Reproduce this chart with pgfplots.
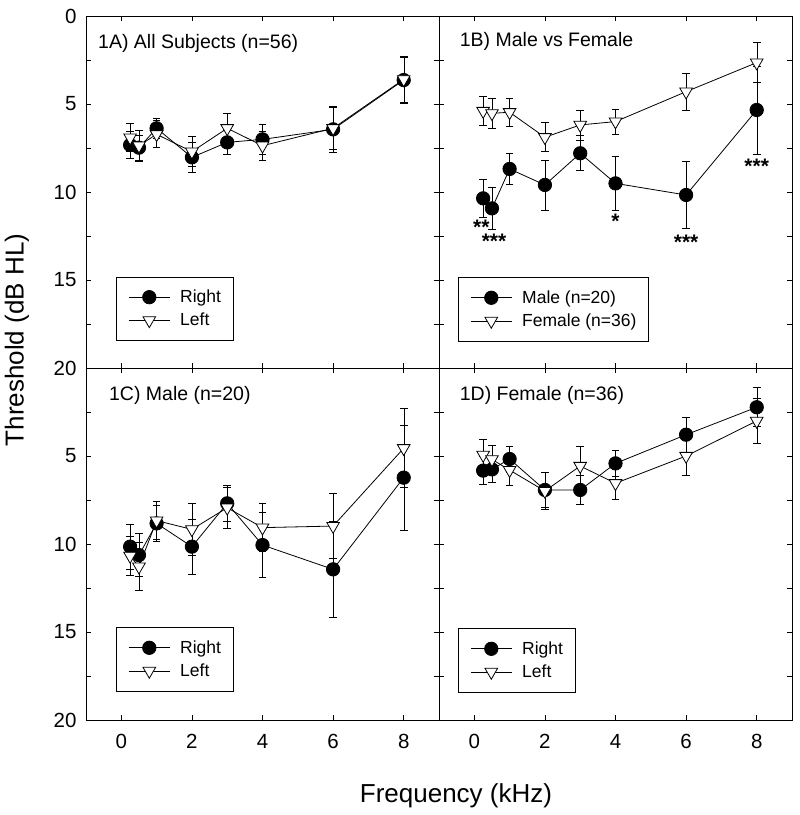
\documentclass[border=0pt]{standalone}
\usepackage{fontspec}
\setmainfont{Liberation Sans}
\usepackage{pgfplots}
\usepackage{pgfplotstable}
\pgfplotsset{compat=1.18}
\usepgfplotslibrary{groupplots}

% threshold (dB HL) by frequency (kHz), with error bar half-widths
\pgfplotstableread{
f t e
0.25 7.33 0.75
0.5 7.48 0.70
1 6.38 0.57
2 8.03 0.85
3 7.18 0.66
4 7.01 0.85
6 6.44 1.30
8 3.64 1.30
}\allright
\pgfplotstableread{
f t e
0.25 6.91 0.78
0.5 7.37 0.89
1 6.72 0.76
2 7.71 0.85
3 6.38 0.85
4 7.37 0.81
6 6.38 1.20
8 3.60 1.33
}\allleft
\pgfplotstableread{
f t e
0.25 10.36 1.08
0.5 10.93 1.19
1 8.69 0.89
2 9.60 1.42
3 7.80 1.00
4 9.51 1.52
6 10.17 1.89
8 5.34 2.50
}\male
\pgfplotstableread{
f t e
0.25 5.40 0.81
0.5 5.53 0.83
1 5.47 0.81
2 6.89 0.83
3 6.19 0.85
4 6.00 0.72
6 4.30 1.04
8 2.65 1.15
}\female
\pgfplotstableread{
f t e
0.25 10.15 1.29
0.5 10.63 1.23
1 8.83 1.00
2 10.15 1.57
3 7.69 1.00
4 10.06 1.84
6 11.44 2.75
8 6.23 2.97
}\mright
\pgfplotstableread{
f t e
0.25 10.68 1.12
0.5 11.29 1.36
1 8.67 1.08
2 9.17 1.45
3 7.94 1.17
4 9.07 1.35
6 8.98 1.85
8 4.56 2.25
}\mleft
\pgfplotstableread{
f t e
0.25 5.83 0.81
0.5 5.76 0.74
1 5.17 0.74
2 6.93 0.98
3 6.93 0.83
4 5.42 0.76
6 3.79 1.00
8 2.23 1.10
}\fright
\pgfplotstableread{
f t e
0.25 4.94 0.89
0.5 5.19 0.81
1 5.80 0.89
2 6.99 1.04
3 5.57 1.14
4 6.55 0.89
6 5.00 1.08
8 3.01 1.30
}\fleft

% significance stars: box trimmed to the glyphs so it sits centred on the point
\newcommand{\stars}[1]{\raisebox{-9pt}[6pt][0pt]{#1}}

\tikzset{
  ttl/.style={anchor=west, inner sep=0pt, font=\fontsize{19.5}{22}\selectfont},
  sig/.style={anchor=center, inner sep=0pt, font=\fontsize{21}{24}\selectfont\bfseries},
}

\pgfplotsset{
  panel/.style={
    width=353pt, height=352pt, scale only axis,
    xmin=-1, xmax=9, ymin=0, ymax=20, y dir=reverse,
    xtick={0,2,4,6,8}, ytick={0,5,10,15,20},
    minor ytick={2.5,7.5,12.5,17.5},
    tick align=inside, xtick pos=both, ytick pos=both,
    major tick length=5pt, minor tick length=5pt,
    tick style={black, line width=0.8pt},
    axis line style={line width=0.8pt},
    ticklabel style={font=\fontsize{20.5}{24}\selectfont},
    /pgf/number format/assume math mode=true,
    xticklabel style={yshift=-11pt},
    yticklabel style={xshift=-6pt},
    clip=false,
    legend cell align=left,
    legend image code/.code={
      \draw[mark repeat=2,mark phase=2,##1] plot coordinates {(0pt,0pt) (20.5pt,0pt) (41pt,0pt)};},
    legend style={anchor=north west, draw=black, line width=0.8pt,
      font=\fontsize{17.5}{20}\selectfont,
      inner xsep=12pt, inner ysep=13pt, column sep=10pt, row sep=9pt,
      nodes={inner sep=0pt}},
  },
  rt/.style={black, line width=0.8pt, mark=*, mark size=6.7pt,
    mark options={solid, fill=black},
    error bars/y dir=both, error bars/y explicit,
    error bars/error mark options={black, line width=0.8pt, mark size=3.8pt, rotate=90}},
  lt/.style={black, line width=0.8pt, mark=triangle*, mark size=7.3pt,
    mark options={solid, fill=white, rotate=180},
    error bars/y dir=both, error bars/y explicit,
    error bars/error mark options={black, line width=0.8pt, mark size=3.8pt, rotate=90}},
}

\begin{document}
\begin{tikzpicture}
\begin{groupplot}[
  group style={group size=2 by 2, horizontal sep=0pt, vertical sep=0pt,
    xticklabels at=edge bottom, yticklabels at=edge left},
  panel]
\nextgroupplot[legend style={at={(0.085,0.2594)}}]
\addplot[rt] table[x=f, y=t, y error=e] {\allright};
\addplot[lt] table[x=f, y=t, y error=e] {\allleft};
\legend{Right, Left}
\node[ttl] at (axis description cs:0.034,0.9224) {1A) All Subjects (n=56)};

\nextgroupplot[legend style={at={(0.0538,0.2577)}}]
\addplot[rt] table[x=f, y=t, y error=e] {\male};
\addplot[lt] table[x=f, y=t, y error=e] {\female};
\legend{Male (n=20), Female (n=36)}
\node[ttl] at (axis description cs:0.0586,0.927) {1B) Male vs Female};
\node[sig] at (axis cs:0.2,11.72) {\stars{**}};
\node[sig] at (axis cs:0.56,12.55) {\stars{***}};
\node[sig] at (axis cs:4,11.42) {\stars{*}};
\node[sig] at (axis cs:6,12.56) {\stars{***}};
\node[sig] at (axis cs:8,8.28) {\stars{***}};

\nextgroupplot[ytick={5,10,15,20}, legend style={at={(0.085,0.2634)}}]
\addplot[rt] table[x=f, y=t, y error=e] {\mright};
\addplot[lt] table[x=f, y=t, y error=e] {\mleft};
\legend{Right, Left}
\node[ttl] at (axis description cs:0.065,0.923) {1C) Male (n=20)};

\nextgroupplot[ytick={5,10,15,20}, legend style={at={(0.0538,0.2605)}}]
\addplot[rt] table[x=f, y=t, y error=e] {\fright};
\addplot[lt] table[x=f, y=t, y error=e] {\fleft};
\legend{Right, Left}
\node[ttl] at (axis description cs:0.0586,0.923) {1D) Female (n=36)};
\end{groupplot}

\path (group c1r1.south west) ++(-69pt,28pt)
  node[rotate=90, font=\fontsize{26}{30}\selectfont] {Threshold (dB HL)};
\path (group c1r2.south east) ++(17pt,-76pt)
  node[font=\fontsize{26}{30}\selectfont] {Frequency (kHz)};

% page frame: same margins as the reference
\path (group c1r1.north west) ++(-86pt,16pt) coordinate (tl);
\path (group c2r2.south east) ++(8pt,-95pt) coordinate (br);
\path (tl) rectangle (br);
\end{tikzpicture}
\end{document}
